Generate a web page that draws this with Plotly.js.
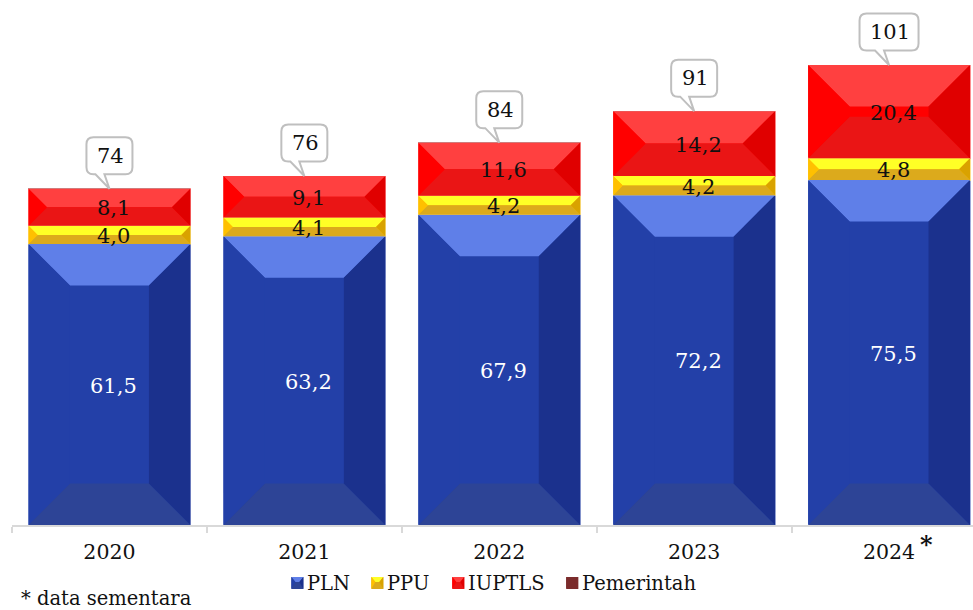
<!DOCTYPE html>
<html>
<head>
<meta charset="utf-8">
<script src="https://cdn.plot.ly/plotly-3.0.1.min.js"></script>
<style>html,body{margin:0;padding:0;background:#fff;overflow:hidden}</style>
</head>
<body>
<div id="chart" style="width:973px;height:610px"></div>
<script>
const years = ['2020','2021','2022','2023','2024'];
const pln = [61.5,63.2,67.9,72.2,75.5];
const ppu = [4.0,4.1,4.2,4.2,4.8];
const iuptls = [8.1,9.1,11.6,14.2,20.4];
const pemerintah = [0,0,0,0,0];
const totals = ['74','76','84','91','101'];
const seriesNames = ['PLN','PPU','IUPTLS','Pemerintah'];
const note = '* data sementara';

const FONT = '"DejaVu Serif", serif';
const W = 973, H = 610, L = 11.5, B = 85;
const plotH = H - B;
const pxPerUnit = 4.568;
const catPx = 195;
const halfBar = 81;
const maxBevel = 41.5;

const palette = {
  PLN:        {base:'#2340A8', top:'#5F7FE8', left:'#2340A8', right:'#1B318D', bottom:'#2D4496', edge:'#A9B5E0'},
  PPU:        {base:'#FFC000', top:'#FFFF26', left:'#FFC000', right:'#D9A200', bottom:'#DCAA1C', edge:'#FFE699'},
  IUPTLS:     {base:'#FF0000', top:'#FF4040', left:'#FF0000', right:'#E00000', bottom:'#EA1515', edge:'#FF9A9A'},
  Pemerintah: {base:'#7B2C2C', top:'#7B2C2C', left:'#7B2C2C', right:'#7B2C2C', bottom:'#7B2C2C', edge:'#C09090'}
};
const seriesVals = [pln, ppu, iuptls, pemerintah];

const traces = seriesNames.map((n, s) => ({
  type:'bar', name:n, x:years, y:seriesVals[s], width:162/catPx, showlegend:false, hoverinfo:'x+y',
  marker:{color:palette[n].base, line:{color:palette[n].edge, width:1}}
}));

const shapes = [], annotations = [];

function facets(i, y0, y1, c) {
  const b = Math.min(maxBevel, (y1-y0)*pxPerUnit/2), d = b/pxPerUnit, h = halfBar;
  const P = (pts, fill) => shapes.push({type:'path', layer:'above', xref:'x', yref:'y', xsizemode:'pixel', xanchor:i,
    path:'M'+pts.map(p=>p[0]+','+p[1]).join(' L')+' Z', fillcolor:fill, line:{width:0}});
  P([[-h,y1],[h,y1],[h-b,y1-d],[-h+b,y1-d]], c.top);
  P([[-h,y0],[h,y0],[h-b,y0+d],[-h+b,y0+d]], c.bottom);
  P([[-h,y0],[-h+b,y0+d],[-h+b,y1-d],[-h,y1]], c.left);
  P([[h,y0],[h-b,y0+d],[h-b,y1-d],[h,y1]], c.right);
}

function callout(i, label) {
  const w = label.length > 2 ? 59 : 46, bot = 14.5, top = 51.5, r = 7;
  const hw = w/2, top0 = bot, t = top;
  const path = `M${-hw+r},${top0} L${-14},${top0} L0,0 L${-5},${top0} L${hw-r},${top0} Q${hw},${top0} ${hw},${top0+r} L${hw},${t-r} Q${hw},${t} ${hw-r},${t} L${-hw+r},${t} Q${-hw},${t} ${-hw},${t-r} L${-hw},${top0+r} Q${-hw},${top0} ${-hw+r},${top0} Z`;
  shapes.push({type:'path', layer:'above', xref:'x', yref:'y', xsizemode:'pixel', ysizemode:'pixel',
    xanchor:i, yanchor:pln[i]+ppu[i]+iuptls[i]+pemerintah[i], path:path, fillcolor:'#fff', line:{color:'#BFBFBF', width:2}});
  annotations.push({x:i, y:pln[i]+ppu[i]+iuptls[i]+pemerintah[i], xref:'x', yref:'y', text:label, showarrow:false,
    yshift:33, xshift:1, xanchor:'center', yanchor:'middle', font:{family:FONT, size:21, color:'#111'}});
}

function valueLabel(i, y0, y1, color) {
  annotations.push({x:i, y:(y0+y1)/2, xref:'x', yref:'y', text:((y1-y0).toFixed(1)).replace('.',','), showarrow:false,
    xshift:4, yshift:-1, xanchor:'center', yanchor:'middle', font:{family:FONT, size:21, color:color}});
}

years.forEach((yr, i) => {
  let base = 0;
  seriesNames.forEach((n, s) => {
    const v = seriesVals[s][i];
    if (v > 0) {
      facets(i, base, base+v, palette[n]);
      valueLabel(i, base, base+v, s === 0 ? '#fff' : '#111');
    }
    base += v;
  });
  callout(i, totals[i]);
});

// asterisk next to the last year
annotations.push({x:4, y:0, xref:'x', yref:'y', text:'<b>*</b>', showarrow:false, xshift:37.5, yshift:-19,
  xanchor:'center', yanchor:'middle', font:{family:FONT, size:24, color:'#111'}});

// legend
const legendIconX = [291, 371, 452, 566];
const legendY = 583;
seriesNames.forEach((n, s) => {
  const c = palette[n], cx = legendIconX[s]+6, r = 6;
  const P = (pts, fill) => shapes.push({type:'path', layer:'above', xref:'paper', yref:'paper', xsizemode:'pixel', ysizemode:'pixel',
    xanchor:(cx-L)/(W-L), yanchor:(plotH-legendY)/plotH, path:'M'+pts.map(p=>p[0]+','+p[1]).join(' L')+' Z', fillcolor:fill, line:{width:0}});
  P([[-r,-r],[r,-r],[r,r],[-r,r]], c.bottom);
  P([[-r,r],[r,r],[2,1],[-2,1]], c.top);
  P([[-r,r],[-r,-r],[-2,1]], c.left);
  P([[r,r],[r,-r],[2,1]], c.right);
  annotations.push({xref:'paper', yref:'paper', x:(legendIconX[s]+14-L)/(W-L), y:(plotH-legendY)/plotH, text:n, showarrow:false,
    xanchor:'left', yanchor:'middle', font:{family:FONT, size:19.5, color:'#111'}});
});

annotations.push({xref:'paper', yref:'paper', x:(19-L)/(W-L), y:(plotH-598)/plotH, text:note, showarrow:false,
  xanchor:'left', yanchor:'middle', font:{family:FONT, size:19.5, color:'#111'}});

const layout = {
  width:W, height:H, margin:{l:L, r:0, t:0, b:B, pad:0},
  paper_bgcolor:'#fff', plot_bgcolor:'#fff', barmode:'stack', showlegend:false,
  font:{family:FONT, size:20, color:'#111'},
  xaxis:{type:'category', categoryorder:'array', categoryarray:years, range:[-0.5, -0.5+(W-L)/catPx], tickson:'boundaries',
    ticks:'outside', ticklen:6, tickwidth:2, tickcolor:'#D9D9D9', showline:true, linewidth:2, linecolor:'#D9D9D9',
    showgrid:false, zeroline:false, ticklabelstandoff:7, tickfont:{family:FONT, size:20.5, color:'#111'}, automargin:false},
  yaxis:{visible:false, range:[0, plotH/pxPerUnit], showgrid:false, zeroline:false, fixedrange:true},
  shapes:shapes, annotations:annotations
};
Plotly.newPlot('chart', traces, layout, {displayModeBar:false, staticPlot:false});
</script>
</body>
</html>
